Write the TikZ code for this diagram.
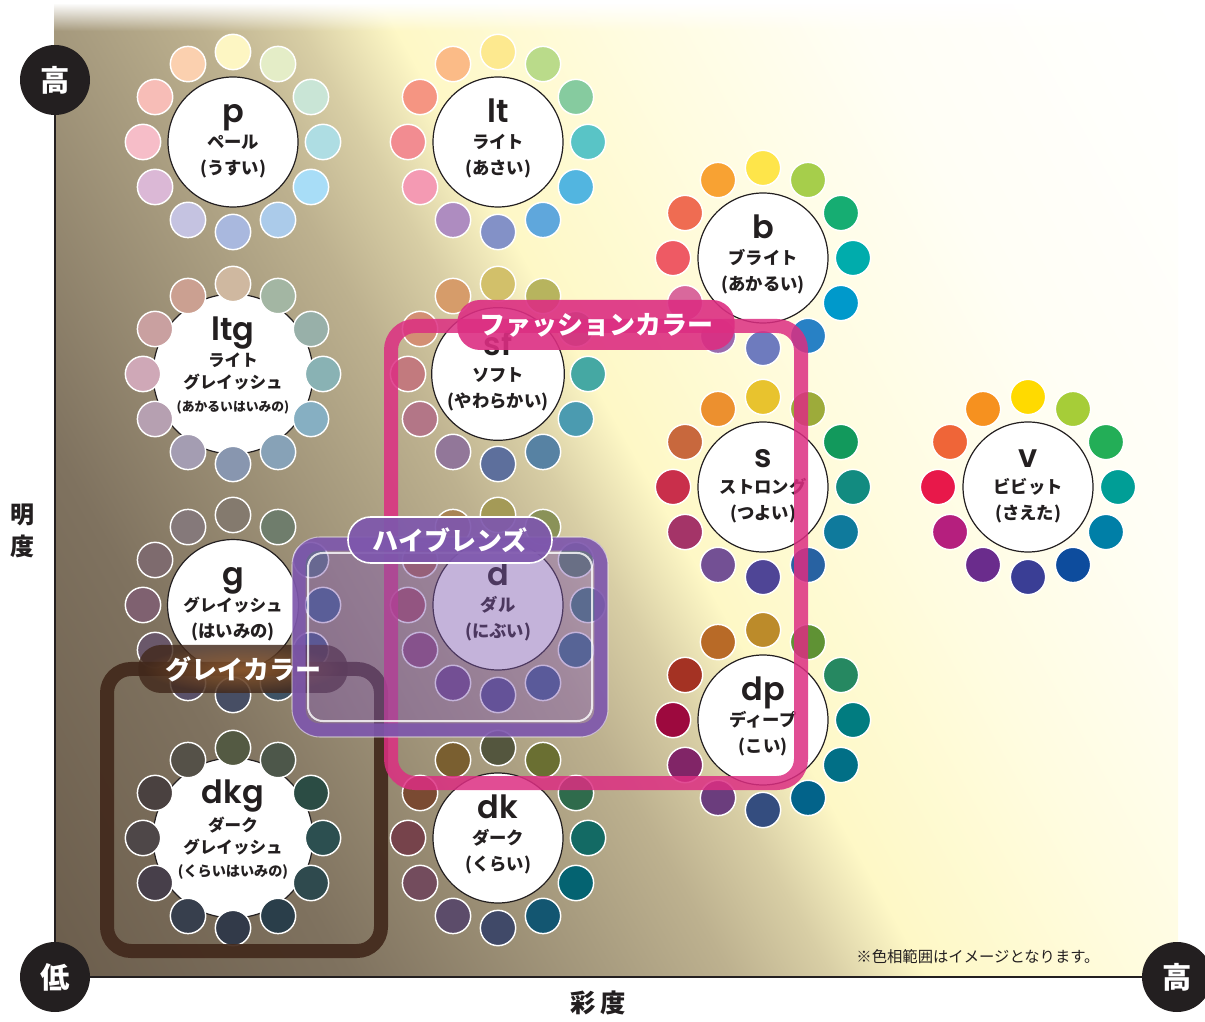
\documentclass[tikz,border=0pt]{standalone}
\usepackage{fontspec}
\setmainfont{Noto Sans CJK JP}
\newfontfamily\abbrfont{Poppins}[UprightFont={* SemiBold}]
\usetikzlibrary{fadings}

\definecolor{ink}{HTML}{231F20}
\definecolor{fashionpink}{HTML}{DC2E82}
\definecolor{highpurple}{HTML}{7E57AD}
\definecolor{greybrown}{HTML}{42291C}
\definecolor{greyglow}{HTML}{9A6232}
\definecolor{bgA}{HTML}{6B5D4C}
\definecolor{bgB}{HTML}{7F725F}
\definecolor{bgC}{HTML}{A99D80}
\definecolor{bgD}{HTML}{BDB18F}
\definecolor{bgE}{HTML}{D8CEA5}
\definecolor{bgF}{HTML}{FEF8C6}
\definecolor{bgG}{HTML}{FFFCE0}
\definecolor{bgH}{HTML}{FFFEF5}

% background: dark low-chroma corner to white
\pgfdeclarehorizontalshading{tonebg}{100bp}{color(0bp)=(bgA); color(15.8bp)=(bgA); color(28bp)=(bgB); color(38.8bp)=(bgC); color(43.6bp)=(bgD); color(47.7bp)=(bgE); color(51.6bp)=(bgF); color(61bp)=(bgG); color(70.7bp)=(bgH); color(84bp)=(white); color(100bp)=(white)}
% soft glow behind a label
\tikzfading[name=glowfade, inner color=transparent!20, outer color=transparent!100]

\newcommand{\tonename}[1]{{\abbrfont\mdseries\fontsize{24}{24}\selectfont\vphantom{l}#1}}

\begin{document}
\begin{tikzpicture}[x=0.75pt, y=0.75pt,
  tone/.style={circle, draw=ink, line width=0.9pt, fill=white, text=ink,
    minimum size=97.5pt, inner sep=0pt, align=center,
    font=\bfseries\fontsize{13}{19.5}\selectfont},
  greyish/.style={font=\bfseries\fontsize{12.4}{17}\selectfont},
  hue/.style={circle, draw=white, line width=1.1pt, minimum size=26.5pt, inner sep=0pt},
  axisdot/.style={circle, fill=ink, minimum size=52.5pt, inner sep=0pt, text=white,
    font=\bfseries\fontsize{22}{22}\selectfont},
  groupframe/.style={line width=10.5pt, rounded corners=18pt},
  grouptab/.style={rounded corners=17pt, inner sep=0pt, text=white, text opacity=1,
    font=\bfseries\fontsize{19.5}{19.5}\selectfont}]
  \useasboundingbox (0,0) rectangle (1205,1021);
  % background
  \shade[shading=tonebg, shading angle=29.3] (54,44) rectangle (1178,1016);
  \fill[white, path fading=south] (53,990) rectangle (1179,1018);

  % tones
  \node[tone] (p) at (233,879) {\tonename{p}\\ペール\\(うすい)\\[-12pt]\mbox{}};
  \node[tone] (lt) at (498,879) {\tonename{lt}\\ライト\\(あさい)\\[-12pt]\mbox{}};
  \node[tone] (b) at (763,763) {\tonename{b}\\ブライト\\(あかるい)\\[-12pt]\mbox{}};
  \node[tone, greyish] (ltg) at (233,647) {\tonename{ltg}\\[2pt]ライト\\グレイッシュ\\{\fontsize{9.6}{12}\selectfont(あかるいはいみの)}\\[-2.5pt]\mbox{}};
  \node[tone] (sf) at (498,647) {\tonename{sf}\\ソフト\\(やわらかい)\\[-12pt]\mbox{}};
  \node[tone] (s) at (763,534) {\tonename{s}\\ストロング\\(つよい)\\[-12pt]\mbox{}};
  \node[tone] (v) at (1028,534) {\tonename{v}\\ビビット\\(さえた)\\[-12pt]\mbox{}};
  \node[tone] (g) at (233,416) {\tonename{g}\\{\fontsize{12.4}{17}\selectfont グレイッシュ}\\(はいみの)\\[-12pt]\mbox{}};
  \node[tone] (d) at (498,416) {\tonename{d}\\ダル\\(にぶい)\\[-12pt]\mbox{}};
  \node[tone] (dp) at (763,301) {\tonename{dp}\\ディープ\\(こい)\\[-12pt]\mbox{}};
  \node[tone, greyish] (dkg) at (233,183) {\tonename{dkg}\\[2pt]ダーク\\グレイッシュ\\{\fontsize{10.6}{12}\selectfont(くらいはいみの)}\\[-2.5pt]\mbox{}};
  \node[tone] (dk) at (498,183) {\tonename{dk}\\ダーク\\(くらい)\\[-12pt]\mbox{}};

  % twelve hues round each tone, yellow on top, clockwise
  \foreach \n/\hues in {
    p/{FDF6C3,E4EDC7,C9E5D6,AEDDE3,A8DDF7,ABCBEA,A9B8DE,C5C3E1,DBB8D6,F6BDC8,F7BDB7,FBD0AF},
    lt/{FDE98F,BADB8A,86CB9F,59C4C6,52B5E0,5FA7DC,8391C7,AE8CC0,F49AB3,F28C91,F59582,FBBB87},
    b/{FEE54A,A6CE4B,16AD72,00ACAC,0099CB,2881C5,6E7BBE,9A6BAE,D9689C,EE5A64,EF6C52,F8A233},
    ltg/{CFB8A0,A3B6A3,98B0A9,89B2B4,86AFC2,87A2B7,8896AF,A49DB2,B6A0B1,CFA8B7,C9A0A0,CBA091},
    sf/{D2C06A,B7B45E,78A87A,45A8A3,4B9BB0,5782A3,5D6F9C,927799,B37687,C27A7E,D38F74,D69C6A},
    s/{E8C32E,9DAB3A,12995C,128B80,0F7A9C,2862A2,4F4596,735094,A43468,C92F4B,C8683D,EC902F},
    v/{FFDA00,A6CD38,23AE57,009E96,007FA7,0D4C9D,3A3E95,6A2C8C,B51F7E,E8184A,EF6538,F6911F},
    g/{847A6E,6F7D6C,56767A,3D6588,3F5A80,3E5366,474E64,5A5169,6A586A,7F6170,7E6B6E,85797A},
    d/{A49A57,8A9258,598365,3F7C78,386F84,3D5D8B,4F4F87,6A4A80,8D4F72,A5545E,AB6950,A98454},
    dp/{BC8B2A,5F9234,268861,017C80,016F86,02638A,344D7F,6B3D7D,812567,9D093E,A43223,B86A27},
    dkg/{545A43,4D574A,2B4C44,2C4F50,2F4A4E,2A3E4A,323A49,373F4D,473F4A,4E4748,4A4140,555148},
    dk/{54563E,6A6F32,2F6B4C,136A64,046371,135671,404968,5C4C6A,734C5D,76434B,7A4A32,7A5F30}}{
    \foreach \h [count=\i from 0] in \hues {
      \definecolor{huefill}{HTML}{\h}
      \path (\n) ++(90-30*\i:90) node[hue, fill=huefill] (\n-\i) {};
    }
  }

  % grey colours
  \draw[greybrown, groupframe, opacity=0.92] (107,70) rectangle (381,352);
  \node[grouptab, fill=greybrown, fill opacity=0.82, minimum width=157pt, minimum height=36pt] (greytab) at (243,352) {};
  \fill[greyglow, path fading=glowfade] (greytab) ellipse [x radius=100, y radius=24];
  % fashion colours
  \draw[fashionpink, groupframe, opacity=0.85] (391,238) rectangle (801,695);
  \node[grouptab, fill=fashionpink, fill opacity=0.9, minimum width=208pt, minimum height=37.5pt] (fashiontab) at (596,696) {ファッションカラー};
  % high blends
  \fill[highpurple, opacity=0.45, rounded corners=20pt] (292,284) rectangle (608,484);
  \draw[highpurple, line width=10pt, rounded corners=15pt, opacity=0.85] (299,291) rectangle (601,477);
  \draw[white, line width=1.5pt, rounded corners=11pt, opacity=0.8] (308,300) rectangle (592,468);
  \draw[white, line width=0.8pt, rounded corners=21pt, opacity=0.5] (292,284) rectangle (608,484);
  \node[grouptab, fill=highpurple, draw=white, line width=1.2pt, fill opacity=0.92, minimum width=153pt, minimum height=34.5pt] (blendtab) at (450,481) {ハイブレンズ};
  \node[grouptab] (greylabel) at (greytab) {グレイカラー};

  % axes
  \node[axisdot] (high) at (55,941) {高};
  \node[axisdot] (low) at (55,44) {低};
  \node[axisdot] (chromahigh) at (1177,44) {高};
  \draw[ink, line width=2.2pt] (high) -- (low) -- (chromahigh);
  \node[text=ink, align=center, font=\bfseries\fontsize{18}{24}\selectfont] (lightness) at (22,490) {明\\度};
  \node[text=ink, font=\bfseries\fontsize{19}{19}\selectfont] (chroma) at (598,18) {彩\hspace{4pt}度};
  \node[text=ink, font=\fontsize{11.5}{11.5}\selectfont] (note) at (978,64) {※色相範囲はイメージとなります。};
\end{tikzpicture}
\end{document}
